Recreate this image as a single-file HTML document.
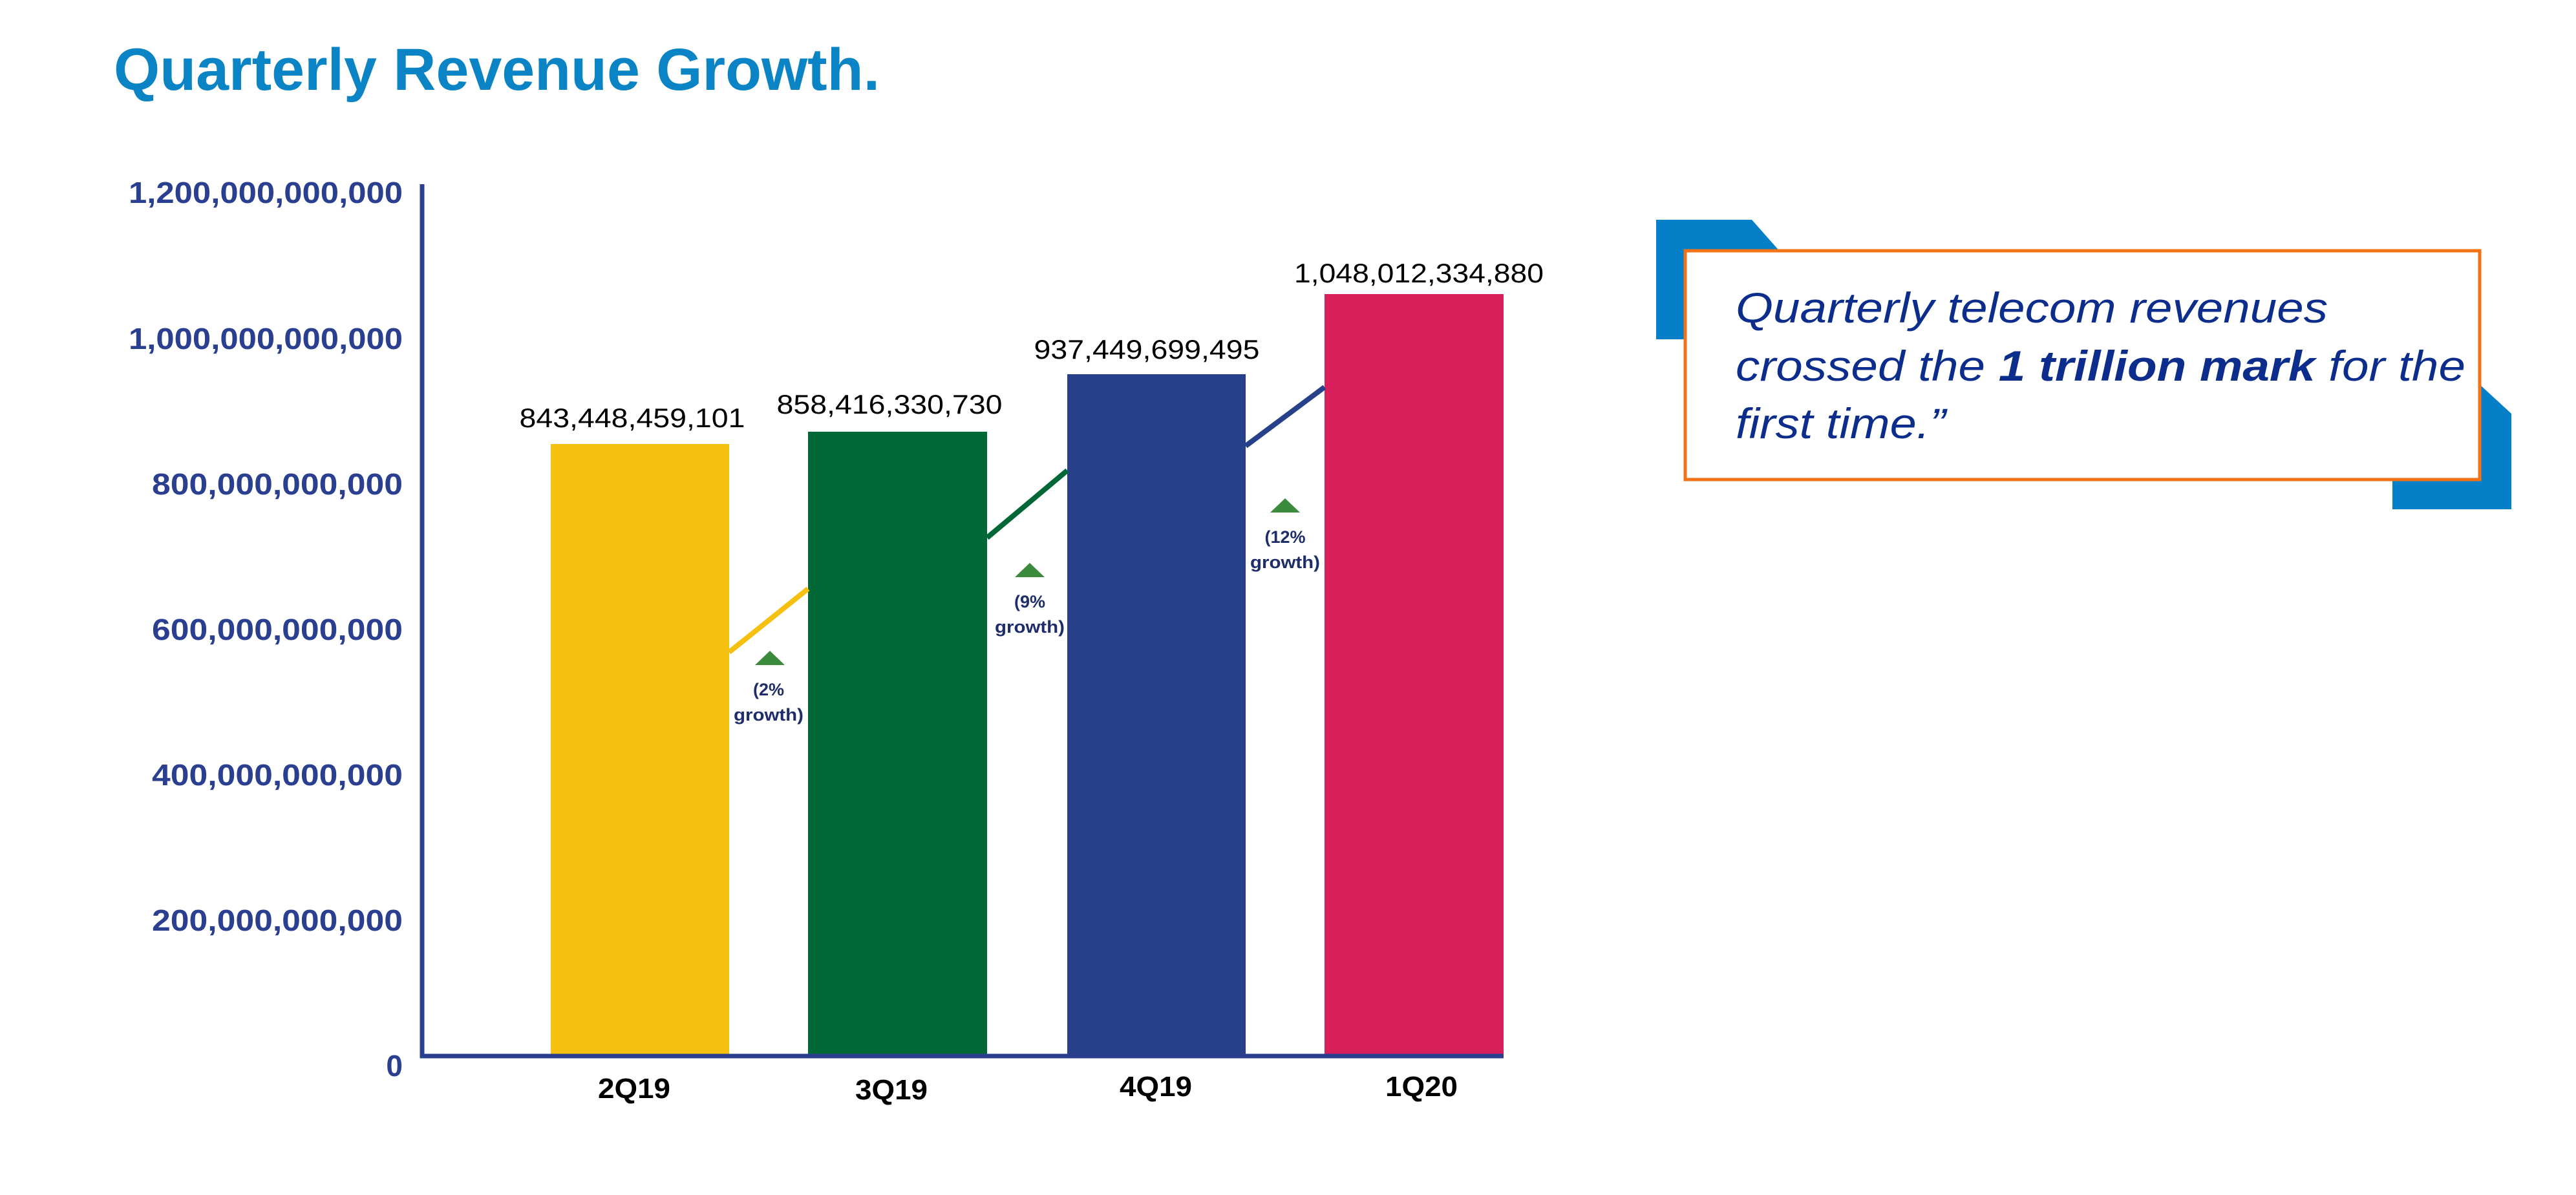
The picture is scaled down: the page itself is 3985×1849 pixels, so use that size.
<!DOCTYPE html>
<html><head><meta charset="utf-8"><style>
html,body{margin:0;padding:0;background:#fff;}
svg{display:block;}
</style></head><body>
<svg width="3985" height="1849" viewBox="0 0 3985 1849" xmlns="http://www.w3.org/2000/svg" font-family="Liberation Sans, sans-serif">
<rect width="3985" height="1849" fill="#fff"/>
<text x="176" y="139" font-size="92" font-weight="bold" fill="#0a84c4" textLength="1185" lengthAdjust="spacingAndGlyphs">Quarterly Revenue Growth.</text>

<!-- y labels -->
<g font-size="46" font-weight="bold" fill="#2a3f8f" text-anchor="end">
<text x="623" y="314" textLength="424" lengthAdjust="spacingAndGlyphs">1,200,000,000,000</text>
<text x="623" y="540" textLength="424" lengthAdjust="spacingAndGlyphs">1,000,000,000,000</text>
<text x="623" y="765" textLength="388" lengthAdjust="spacingAndGlyphs">800,000,000,000</text>
<text x="623" y="990" textLength="388" lengthAdjust="spacingAndGlyphs">600,000,000,000</text>
<text x="623" y="1215" textLength="388" lengthAdjust="spacingAndGlyphs">400,000,000,000</text>
<text x="623" y="1440" textLength="388" lengthAdjust="spacingAndGlyphs">200,000,000,000</text>
<text x="623" y="1665">0</text>
</g>

<!-- bars -->
<rect x="852" y="687" width="276" height="949" fill="#f5c010"/>
<rect x="1250" y="668" width="277" height="968" fill="#006837"/>
<rect x="1651" y="579" width="276" height="1057" fill="#26418a"/>
<rect x="2049" y="455" width="277" height="1181" fill="#d81e5b"/>

<!-- axes -->
<line x1="653" y1="285" x2="653" y2="1637" stroke="#2a3f8f" stroke-width="7"/>
<line x1="650" y1="1634" x2="2326" y2="1634" stroke="#2a3f8f" stroke-width="7"/>

<!-- connecting lines -->
<line x1="1128" y1="1009" x2="1250" y2="911" stroke="#f5c010" stroke-width="8"/>
<line x1="1527" y1="832" x2="1651" y2="728" stroke="#006837" stroke-width="8"/>
<line x1="1927" y1="690" x2="2049" y2="599" stroke="#26418a" stroke-width="8"/>

<!-- value labels -->
<g font-size="42" fill="#000" text-anchor="middle">
<text x="978" y="661" textLength="349" lengthAdjust="spacingAndGlyphs">843,448,459,101</text>
<text x="1376" y="640" textLength="349" lengthAdjust="spacingAndGlyphs">858,416,330,730</text>
<text x="1774" y="555" textLength="349" lengthAdjust="spacingAndGlyphs">937,449,699,495</text>
<text x="2195" y="437" textLength="386" lengthAdjust="spacingAndGlyphs">1,048,012,334,880</text>
</g>

<!-- growth markers -->
<g fill="#3a8c3c">
<polygon points="1168,1029 1214,1029 1191,1007"/>
<polygon points="1570,893 1616,893 1593,871"/>
<polygon points="1965,793 2011,793 1988,771"/>
</g>
<g font-size="27" font-weight="bold" fill="#1f2d6b" text-anchor="middle">
<text x="1189" y="1076">(2%</text><text x="1189" y="1115" textLength="108" lengthAdjust="spacingAndGlyphs">growth)</text>
<text x="1593" y="940">(9%</text><text x="1593" y="979" textLength="108" lengthAdjust="spacingAndGlyphs">growth)</text>
<text x="1988" y="840">(12%</text><text x="1988" y="879" textLength="108" lengthAdjust="spacingAndGlyphs">growth)</text>
</g>

<!-- category labels -->
<g font-size="44" font-weight="bold" fill="#000" text-anchor="middle">
<text x="981" y="1699" textLength="112" lengthAdjust="spacingAndGlyphs">2Q19</text>
<text x="1379" y="1701" textLength="112" lengthAdjust="spacingAndGlyphs">3Q19</text>
<text x="1788" y="1696" textLength="112" lengthAdjust="spacingAndGlyphs">4Q19</text>
<text x="2199" y="1696" textLength="112" lengthAdjust="spacingAndGlyphs">1Q20</text>
</g>

<!-- callout box -->
<polygon points="2562,340 2710,340 2756,392 2756,525 2562,525" fill="#0580c8"/>
<polygon points="3701,594 3835,594 3885,640 3885,788 3701,788" fill="#0580c8"/>
<rect x="2607" y="388" width="1229" height="354" fill="#fff" stroke="#f47216" stroke-width="5"/>
<g font-size="66" font-style="italic" fill="#0c2d8c">
<text x="2685" y="499" textLength="916" lengthAdjust="spacingAndGlyphs">Quarterly telecom revenues</text>
<text x="2685" y="589" textLength="1129" lengthAdjust="spacingAndGlyphs">crossed the <tspan font-weight="bold">1 trillion mark</tspan> for the</text>
<text x="2685" y="678" textLength="325" lengthAdjust="spacingAndGlyphs">first time.”</text>
</g>
</svg>
</body></html>
